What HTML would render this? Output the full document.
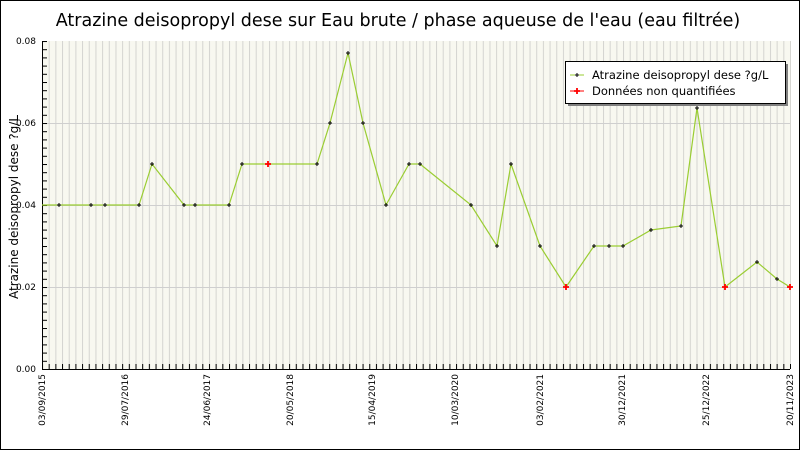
<!DOCTYPE html>
<html><head><meta charset="utf-8"><style>
html,body{margin:0;padding:0;background:#fff}
svg{display:block;font-family:"DejaVu Sans","Liberation Sans",sans-serif}
</style></head><body>
<svg width="800" height="450" viewBox="0 0 800 450" xmlns="http://www.w3.org/2000/svg">
<defs>
<pattern id="vgp" x="42" y="0" width="6.67857" height="450" patternUnits="userSpaceOnUse">
<rect x="0" y="0" width="1" height="450" fill="#d4d4d0"/>
</pattern>
<pattern id="tkp" x="42" y="0" width="6.67857" height="450" patternUnits="userSpaceOnUse">
<rect x="0" y="0" width="1" height="450" fill="#000"/>
</pattern>
<pattern id="ytp" x="0" y="41" width="10" height="8.2" patternUnits="userSpaceOnUse">
<rect x="0" y="0" width="10" height="1" fill="#000"/>
</pattern>
</defs>
<rect x="0.5" y="0.5" width="799" height="449" fill="#fff" stroke="#000"/>
<text x="398" y="26" font-size="17.5" text-anchor="middle" fill="#000">Atrazine deisopropyl dese sur Eau brute / phase aqueuse de l'eau (eau filtrée)</text>
<rect x="42" y="41" width="748" height="328" fill="#f8f8f0"/>
<rect x="43" y="41" width="748" height="328" fill="url(#vgp)"/>
<g stroke="#cfcfcf" stroke-width="1">
<line x1="42" y1="123.5" x2="790" y2="123.5"/>
<line x1="42" y1="205.5" x2="790" y2="205.5"/>
<line x1="42" y1="287.5" x2="790" y2="287.5"/>
</g>
<rect x="43" y="364" width="748" height="5" fill="url(#tkp)"/>
<rect x="42" y="41" width="5" height="328" fill="url(#ytp)"/>
<line x1="42.5" y1="41" x2="42.5" y2="370" stroke="#000"/>
<line x1="42" y1="369.5" x2="790" y2="369.5" stroke="#000"/>
<g font-size="9" fill="#000" text-anchor="end">
<text x="36" y="44">0.08</text>
<text x="36" y="126">0.06</text>
<text x="36" y="208">0.04</text>
<text x="36" y="290">0.02</text>
<text x="36" y="372">0.00</text>
</g>
<text transform="translate(18,207) rotate(-90)" font-size="12" text-anchor="middle">Atrazine deisopropyl dese ?g/L</text>
<g font-size="9" text-anchor="end">
<text transform="translate(45,374) rotate(-90)">03/09/2015</text>
<text transform="translate(128,374) rotate(-90)">29/07/2016</text>
<text transform="translate(210,374) rotate(-90)">24/06/2017</text>
<text transform="translate(293,374) rotate(-90)">20/05/2018</text>
<text transform="translate(375,374) rotate(-90)">15/04/2019</text>
<text transform="translate(458,374) rotate(-90)">10/03/2020</text>
<text transform="translate(543,374) rotate(-90)">03/02/2021</text>
<text transform="translate(625,374) rotate(-90)">30/12/2021</text>
<text transform="translate(709,374) rotate(-90)">25/12/2022</text>
<text transform="translate(793,374) rotate(-90)">20/11/2023</text>
</g>
<polyline fill="none" stroke="#9acd32" stroke-width="1.2" points="42,205 59,205 91,205 105,205 139,205 152,164 184,205 195,205 229,205 242,164 268,164 317,164 330,123 348,53 363,123 386,205 409,164 420,164 471,205 497,246 511,164 540,246 566,287 594,246 609,246 623,246 651,230 681,226 697,108 725,287 757,262 777,279 790,287"/>
<path stroke="#000" stroke-width="1" fill="none" d="M57 205h4M59 203v4 M89 205h4M91 203v4 M103 205h4M105 203v4 M137 205h4M139 203v4 M150 164h4M152 162v4 M182 205h4M184 203v4 M193 205h4M195 203v4 M227 205h4M229 203v4 M240 164h4M242 162v4 M315 164h4M317 162v4 M328 123h4M330 121v4 M346 53h4M348 51v4 M361 123h4M363 121v4 M384 205h4M386 203v4 M407 164h4M409 162v4 M418 164h4M420 162v4 M469 205h4M471 203v4 M495 246h4M497 244v4 M509 164h4M511 162v4 M538 246h4M540 244v4 M592 246h4M594 244v4 M607 246h4M609 244v4 M621 246h4M623 244v4 M649 230h4M651 228v4 M679 226h4M681 224v4 M695 108h4M697 106v4 M755 262h4M757 260v4 M775 279h4M777 277v4"/>
<path stroke="#f00" stroke-width="1.8" fill="none" d="M265 164h6M268 161v6 M563 287h6M566 284v6 M722 287h6M725 284v6 M787 287h6M790 284v6"/>
<rect x="568" y="64" width="220" height="42" fill="#808080"/>
<rect x="565.5" y="61.5" width="220" height="42" fill="#fff" stroke="#000"/>
<line x1="570" y1="75" x2="584" y2="75" stroke="#9acd32"/>
<path stroke="#000" d="M575 75h4M577 73v4"/>
<line x1="570" y1="91" x2="584" y2="91" stroke="#f00"/>
<path stroke="#f00" stroke-width="1.8" d="M574 91h6M577 88v6"/>
<text x="592" y="79" font-size="11.5">Atrazine deisopropyl dese ?g/L</text>
<text x="592" y="95" font-size="11.5">Données non quantifiées</text>
</svg>
</body></html>
